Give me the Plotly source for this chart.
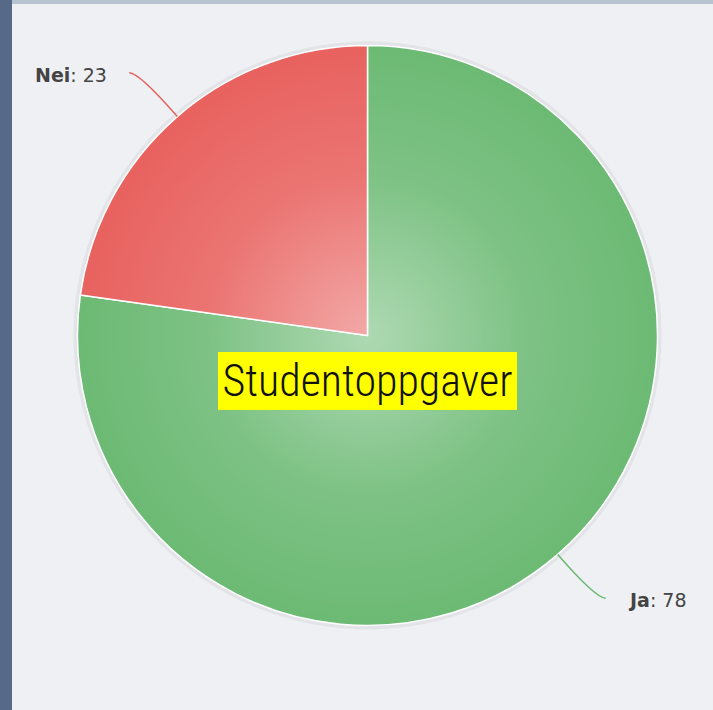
import math, base64
import plotly.graph_objects as go

# ---- data ----
categories = ["Ja", "Nei"]
values = [78, 23]
slice_colors = ["#6cba74", "#e8625f"]
title_text = "Studentoppgaver"

# ---- geometry (pixels) ----
W, H = 713, 710
cx, cy, R = 367.5, 335.5, 290.0

def px(x, y):
    return x / W, 1 - y / H

fig = go.Figure()
fig.add_trace(go.Pie(
    labels=categories, values=values, sort=False, direction="clockwise",
    rotation=0, textinfo="none", hoverinfo="label+value",
    marker=dict(colors=slice_colors, line=dict(color="#ffffff", width=1.5)),
    domain=dict(x=[(cx - R) / W, (cx + R) / W], y=[1 - (cy + R) / H, 1 - (cy - R) / H]),
    showlegend=False,
))

shapes = []
annotations = []
# background pieces
shapes.append(dict(type="rect", xref="paper", yref="paper", x0=0, x1=12 / W, y0=0, y1=1,
                   fillcolor="#566a87", line=dict(width=0), layer="below"))
shapes.append(dict(type="rect", xref="paper", yref="paper", x0=12 / W, x1=1, y0=1 - 4 / H, y1=1,
                   fillcolor="#b9c4d2", line=dict(width=0), layer="below"))
# soft halo behind pie
hx0, hy0 = px(cx - R - 4, cy - R - 4)
hx1, hy1 = px(cx + R + 4, cy + R + 4)
shapes.append(dict(type="circle", xref="paper", yref="paper", x0=hx0, x1=hx1, y0=hy1, y1=hy0,
                   fillcolor="#e2e4e8", line=dict(width=0), layer="below"))

total = sum(values)
cum = 0
for lab, v, col in zip(categories, values, slice_colors):
    mid = (cum + v / 2) / total
    cum += v
    th = mid * 2 * math.pi
    # clockwise from 12 o'clock
    dx, dy = math.sin(th), -math.cos(th)
    ex, ey = cx + R * dx, cy + R * dy
    kx, ky = ex + 58 * dx, ey + 58 * dy
    side = 1 if dx > 0 else -1
    lx, ly = kx + side * 10, ky
    p0 = px(ex, ey); pk = px(kx, ky); pl = px(lx, ly)
    shapes.append(dict(type="path", xref="paper", yref="paper",
                       path=f"M {p0[0]},{p0[1]} Q {pk[0]},{pk[1]} {pl[0]},{pl[1]}",
                       line=dict(color=col, width=1.5)))
    tx = px(lx + side * 20, ly + 2)
    annotations.append(dict(
        x=tx[0], y=tx[1], xref="paper", yref="paper", showarrow=False,
        xanchor="left" if side > 0 else "right", yanchor="middle",
        text=f"<b>{lab}</b>: {v}",
        font=dict(family="DejaVu Sans", size=19, color="#444444")))

tc = px(367.5, 381)
annotations.append(dict(
    x=tc[0], y=tc[1], xref="paper", yref="paper", showarrow=False,
    xanchor="center", yanchor="middle", text=title_text,
    bgcolor="#ffff00", borderpad=0, borderwidth=0, width=299, height=58,
    font=dict(family="Roboto Condensed, Roboto", size=44, color="#111111", weight=300)))

svg = ("<svg xmlns='http://www.w3.org/2000/svg' width='200' height='200'>"
       "<defs><radialGradient id='g' cx='50%' cy='50%' r='50%'>"
       "<stop offset='0' stop-color='#ffffff' stop-opacity='0.45'/>"
       "<stop offset='0.55' stop-color='#ffffff' stop-opacity='0.12'/>"
       "<stop offset='1' stop-color='#ffffff' stop-opacity='0'/>"
       "</radialGradient></defs><circle cx='100' cy='100' r='100' fill='url(#g)'/></svg>")
src = "data:image/svg+xml;base64," + base64.b64encode(svg.encode()).decode()
gx0, gy0 = px(cx - R, cy - R)

fig.update_layout(
    width=W, height=H, margin=dict(l=0, r=0, t=0, b=0),
    paper_bgcolor="#eef0f3", plot_bgcolor="#eef0f3",
    shapes=shapes, annotations=annotations,
    images=[dict(source=src, xref="paper", yref="paper", x=gx0, y=gy0,
                 sizex=2 * R / W, sizey=2 * R / H, xanchor="left", yanchor="top",
                 sizing="stretch", layer="above")],
)
fig.write_html("out.html", config={"displayModeBar": False},
               post_script="document.body.style.margin='0';document.body.style.overflow='hidden';")
